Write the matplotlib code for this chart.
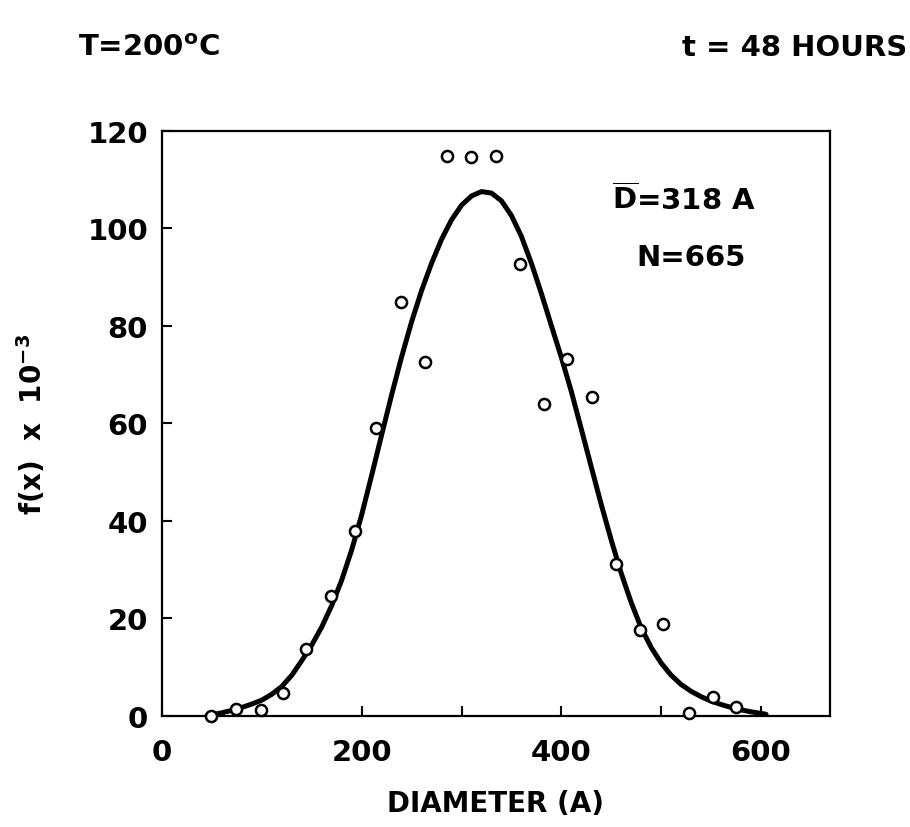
import matplotlib
matplotlib.use('Agg')
import matplotlib.pyplot as plt

plt.rcParams['font.family'] = ['DejaVu Sans']
plt.rcParams['font.weight'] = 'bold'
plt.rcParams['mathtext.default'] = 'bf'

# measured points (diameter in A, f(x) x 10^-3)
diam = [49, 74, 99, 121.5, 144, 169, 193, 214, 239, 263.5, 285, 310, 335,
        359, 383, 405.5, 430.5, 455, 479, 502, 528, 552, 575]
freq = [0, 1.4, 1.2, 4.6, 13.7, 24.5, 37.9, 59, 84.8, 72.6, 114.9, 114.5, 114.7,
        92.7, 63.9, 73.2, 65.3, 31.1, 17.6, 18.8, 0.5, 3.8, 1.7]

# fitted curve
fit_x = [45, 60, 70, 80, 90, 100, 110, 120, 130, 140, 150, 160, 170, 180,
         190, 200, 210, 220, 230, 240, 250, 260, 270, 280, 290, 300, 310,
         320, 330, 340, 350, 360, 370, 380, 390, 400, 410, 420, 430, 440,
         450, 460, 470, 480, 490, 500, 510, 520, 530, 540, 550, 560, 570,
         580, 590, 605]
fit_y = [0, 0.6, 1.1, 1.7, 2.4, 3.2, 4.4, 6.0, 8.3, 11.3, 14.5, 18.2, 22.6,
         27.8, 34.0, 41.2, 49.3, 57.6, 65.8, 73.6, 80.8, 87.2, 92.8, 97.7,
         101.7, 104.7, 106.6, 107.5, 107.2, 105.6, 102.6, 98.3, 92.8, 86.6,
         80.0, 73.5, 66.5, 58.8, 51.0, 43.3, 36.0, 29.2, 23.2, 18.0, 14.0,
         10.8, 8.3, 6.4, 5.0, 3.9, 3.0, 2.3, 1.7, 1.2, 0.8, 0.3]

xticks = [0, 200, 400, 600]
yticks = [0, 20, 40, 60, 80, 100, 120]

fig = plt.figure(figsize=(9.1, 8.28), dpi=100)
ax = fig.add_axes([0.178, 0.1344, 0.734, 0.7066])

ax.plot(fit_x, fit_y, color='black', lw=3.6, solid_capstyle='round',
        solid_joinstyle='round', zorder=2)
ax.plot(diam, freq, 'o', mfc='white', mec='black', ms=8, mew=1.8,
        clip_on=False, zorder=3)

ax.set_xlim(0, 669)
ax.set_ylim(0, 120)
ax.set_xticks(xticks)
ax.set_xticks([100, 300, 500], minor=True)
ax.set_yticks(yticks)
ax.tick_params(axis='x', which='both', direction='in', length=7, width=1.5,
               labelsize=21, pad=16, top=False)
ax.tick_params(axis='y', direction='in', length=7, width=1.5,
               labelsize=21, pad=10, right=False)
for s in ax.spines.values():
    s.set_linewidth(1.6)

ax.set_xlabel('DIAMETER (A)', fontsize=20, fontweight='bold')
ax.xaxis.set_label_coords(0.5, -0.125)
ax.set_ylabel(r'f(x)  x  10$^{-3}$', fontsize=20, fontweight='bold')
ax.yaxis.set_label_coords(-0.171, 0.5)

ax.text(523, 106, r'$\overline{D}$=318 A', fontsize=21, ha='center', va='center')
ax.text(530, 94, 'N=665', fontsize=21, ha='center', va='center')

fig.text(0.0857, 0.932, r'T=200$^{o}$C', fontsize=21, ha='left', va='baseline')
fig.text(0.9967, 0.932, 't = 48 HOURS', fontsize=21, ha='right', va='baseline')

fig.savefig('out.png', dpi=100)
